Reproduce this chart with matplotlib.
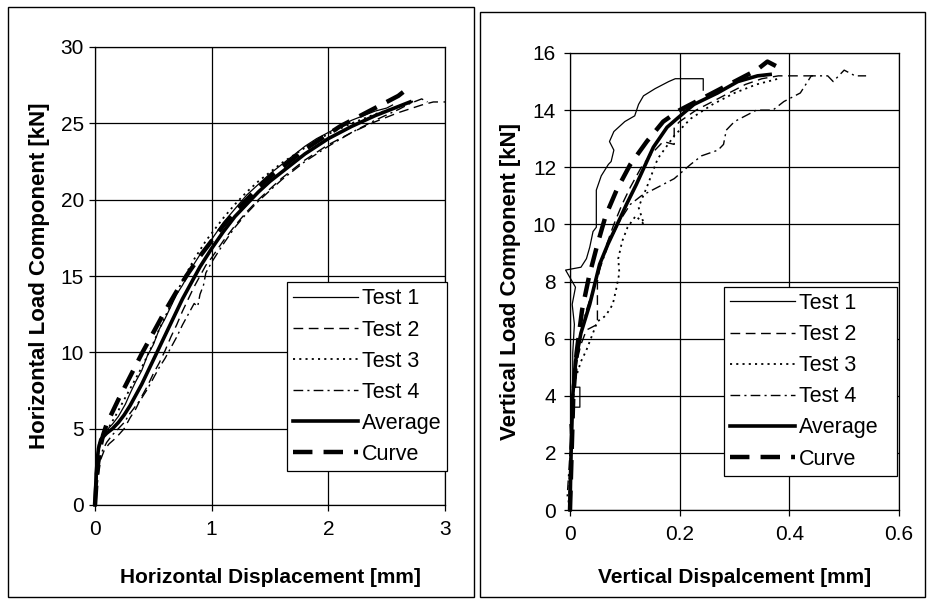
import matplotlib
matplotlib.use('Agg')
import matplotlib.pyplot as plt
from matplotlib.patches import Rectangle

plt.rcParams['font.family'] = ['Liberation Sans', 'DejaVu Sans']
plt.rcParams['lines.scale_dashes'] = False

labels = ['Test 1', 'Test 2', 'Test 3', 'Test 4', 'Average', 'Curve']

# horizontal component: displacement [mm], load [kN]
h_t1_x = [0, 0.005, 0.01, 0.02, 0.03, 0.06, 0.10, 0.15, 0.20, 0.26, 0.30, 0.35, 0.40, 0.45, 0.50, 0.55, 0.60, 0.65,
          0.70, 0.75, 0.80, 0.85, 0.90, 0.95, 1.00, 1.10, 1.20, 1.30, 1.40, 1.50, 1.60, 1.70, 1.80, 1.90, 2.00, 2.10,
          2.20, 2.30, 2.40, 2.50, 2.55]
h_t1_y = [0, 1.0, 2.2, 3.4, 4.0, 4.5, 4.9, 5.3, 5.8, 6.6, 7.3, 8.1, 8.8, 9.8, 10.5, 11.5, 12.2, 13.0, 13.8, 14.4,
          15.1, 15.8, 16.4, 16.9, 17.4, 18.5, 19.4, 20.3, 21.0, 21.7, 22.3, 22.9, 23.5, 24.0, 24.4, 24.8, 25.2, 25.5,
          25.8, 26.0, 26.2]
h_t2_x = [0, 0.01, 0.03, 0.05, 0.08, 0.12, 0.18, 0.25, 0.30, 0.35, 0.40, 0.45, 0.50, 0.55, 0.60, 0.65, 0.70, 0.75,
          0.80, 0.85, 0.90, 0.95, 1.00, 1.10, 1.20, 1.30, 1.40, 1.50, 1.60, 1.70, 1.80, 1.90, 2.00, 2.20, 2.40, 2.60,
          2.80, 2.90, 3.00]
h_t2_y = [0, 0.8, 2.0, 3.0, 3.6, 4.0, 4.4, 5.0, 5.7, 6.3, 7.1, 7.8, 8.6, 9.3, 10.1, 11.0, 11.8, 12.7, 13.5, 14.3,
          15.0, 15.7, 16.2, 17.3, 18.3, 19.2, 20.0, 20.7, 21.4, 22.0, 22.6, 23.1, 23.6, 24.4, 25.1, 25.7, 26.2, 26.4,
          26.4]
h_t3_x = [0, 0.01, 0.02, 0.04, 0.07, 0.12, 0.18, 0.25, 0.30, 0.35, 0.40, 0.45, 0.50, 0.55, 0.60, 0.65, 0.70, 0.75,
          0.80, 0.85, 0.90, 0.95, 1.00, 1.10, 1.20, 1.30, 1.40, 1.50, 1.60, 1.70, 1.80, 1.90, 2.00, 2.20, 2.40, 2.60,
          2.75]
h_t3_y = [0, 1.5, 3.0, 4.0, 4.5, 5.1, 5.9, 6.9, 7.6, 8.3, 9.0, 9.8, 10.6, 11.5, 12.3, 13.1, 13.9, 14.7, 15.4, 16.1,
          16.7, 17.3, 17.8, 18.8, 19.7, 20.5, 21.2, 21.8, 22.4, 22.9, 23.4, 23.9, 24.3, 25.0, 25.6, 26.1, 26.5]
h_t4_x = [0, 0.01, 0.03, 0.06, 0.10, 0.15, 0.20, 0.25, 0.30, 0.35, 0.40, 0.45, 0.50, 0.55, 0.60, 0.65, 0.70, 0.75,
          0.80, 0.85, 0.88, 0.90, 0.93, 0.95, 1.00, 1.10, 1.20, 1.30, 1.40, 1.50, 1.60, 1.70, 1.80, 1.90, 2.00, 2.20,
          2.40, 2.60, 2.70, 2.80, 2.85]
h_t4_y = [0, 1.2, 2.6, 3.5, 4.1, 4.6, 5.0, 5.4, 6.0, 6.5, 7.0, 7.6, 8.3, 9.0, 9.6, 10.3, 11.0, 11.8, 12.5, 13.2,
          13.0, 13.8, 14.4, 15.2, 15.9, 17.1, 18.2, 19.1, 19.9, 20.6, 21.3, 21.9, 22.5, 23.0, 23.5, 24.4, 25.2, 25.9,
          26.3, 26.6, 26.4]
h_avg_x = [0, 0.005, 0.01, 0.02, 0.03, 0.05, 0.10, 0.15, 0.20, 0.25, 0.30, 0.35, 0.40, 0.45, 0.50, 0.55, 0.60, 0.65,
           0.70, 0.75, 0.80, 0.85, 0.90, 0.95, 1.00, 1.10, 1.20, 1.30, 1.40, 1.50, 1.60, 1.70, 1.80, 1.90, 2.00, 2.20,
           2.40, 2.60, 2.70]
h_avg_y = [0, 1.0, 2.0, 3.0, 3.7, 4.3, 4.7, 5.0, 5.4, 5.9, 6.5, 7.2, 7.9, 8.7, 9.5, 10.3, 11.1, 11.9, 12.7, 13.5,
           14.2, 14.9, 15.6, 16.2, 16.8, 17.9, 18.9, 19.7, 20.5, 21.2, 21.8, 22.4, 23.0, 23.5, 24.0, 24.8, 25.5, 26.1,
           26.4]
h_cur_x = [0, 0.01, 0.02, 0.04, 0.07, 0.10, 0.15, 0.20, 0.30, 0.40, 0.50, 0.60, 0.70, 0.80, 0.90, 1.00, 1.10, 1.20,
           1.30, 1.40, 1.50, 1.60, 1.70, 1.80, 1.90, 2.00, 2.10, 2.20, 2.30, 2.40, 2.50, 2.60, 2.65, 2.68]
h_cur_y = [0, 1.2, 2.3, 3.6, 4.6, 5.3, 6.1, 6.9, 8.4, 9.9, 11.3, 12.7, 14.0, 15.2, 16.3, 17.3, 18.3, 19.2, 20.0,
           20.8, 21.5, 22.1, 22.7, 23.3, 23.8, 24.3, 24.8, 25.2, 25.6, 26.0, 26.4, 26.8, 27.1, 26.8]

# vertical component
v_t1_x = [0, 0.002, 0.003, 0.004, 0.018, 0.018, 0.005, 0.005, 0.008, 0.004, 0.01, -0.008, 0.02, 0.03, 0.036, 0.042,
          0.048, 0.048, 0.057, 0.07, 0.075, 0.08, 0.072, 0.08, 0.1, 0.118, 0.125, 0.134, 0.155, 0.17, 0.18, 0.192,
          0.243, 0.243]
v_t1_y = [0, 1.5, 3.0, 3.6, 3.6, 4.3, 4.3, 5.5, 6.5, 7.2, 7.8, 8.4, 8.5, 8.8, 9.2, 9.75, 9.9, 11.2, 11.7, 12.1,
          12.2, 12.6, 12.9, 13.25, 13.6, 13.8, 14.2, 14.5, 14.75, 14.9, 15.0, 15.1, 15.1, 14.7]
v_t2_x = [0, -0.002, 0.003, 0.0, 0.006, 0.01, 0.02, 0.03, 0.05, 0.05, 0.055, 0.065, 0.08, 0.095, 0.11, 0.13, 0.15,
          0.17, 0.19, 0.19, 0.2, 0.23, 0.26, 0.29, 0.32, 0.35, 0.38, 0.42, 0.45]
v_t2_y = [0, 1.0, 2.0, 3.0, 4.0, 5.0, 5.8, 6.3, 6.5, 8.0, 8.5, 9.2, 10.0, 10.7, 11.3, 12.0, 12.5, 12.9, 12.8, 13.4,
          13.6, 14.0, 14.3, 14.6, 14.9, 15.1, 15.2, 15.2, 15.2]
v_t3_x = [0, 0.0, 0.003, 0.005, 0.01, 0.02, 0.03, 0.04, 0.05, 0.065, 0.078, 0.085, 0.09, 0.088, 0.095, 0.105, 0.12,
          0.135, 0.125, 0.14, 0.16, 0.19, 0.22, 0.26, 0.3, 0.34, 0.38]
v_t3_y = [0, 1.5, 3.0, 4.0, 4.6, 5.2, 5.6, 6.1, 6.6, 6.8, 7.2, 7.8, 8.3, 8.8, 9.4, 9.9, 10.3, 10.0, 10.6, 11.3,
          12.3, 13.1, 13.7, 14.2, 14.6, 14.9, 15.1]
v_t4_x = [0, -0.005, 0.0, 0.005, 0.01, 0.015, 0.02, 0.03, 0.05, 0.07, 0.09, 0.11, 0.13, 0.16, 0.19, 0.22, 0.24,
          0.27, 0.28, 0.285, 0.3, 0.33, 0.34, 0.37, 0.39, 0.42, 0.43, 0.44, 0.47, 0.48, 0.5, 0.52, 0.54]
v_t4_y = [0, 0.5, 2.0, 3.5, 4.8, 5.5, 6.2, 7.0, 8.2, 9.3, 10.1, 10.7, 11.0, 11.3, 11.6, 12.1, 12.4, 12.6, 12.8,
          13.3, 13.6, 13.9, 14.0, 14.0, 14.3, 14.6, 14.9, 15.2, 15.2, 15.0, 15.4, 15.2, 15.2]
v_avg_x = [0, 0.002, 0.005, 0.01, 0.02, 0.036, 0.054, 0.069, 0.091, 0.103, 0.121, 0.14, 0.152, 0.177, 0.195, 0.226,
           0.269, 0.306, 0.342, 0.365]
v_avg_y = [0, 2.0, 4.0, 5.2, 6.2, 7.2, 8.6, 9.3, 10.2, 10.7, 11.4, 12.2, 12.7, 13.4, 13.7, 14.2, 14.6, 15.0, 15.2,
           15.25]
v_cur_x = [0, 0.003, 0.006, 0.012, 0.022, 0.035, 0.05, 0.065, 0.085, 0.11, 0.14, 0.17, 0.2, 0.25, 0.3, 0.34, 0.36,
           0.385]
v_cur_y = [0, 2.0, 4.0, 5.5, 7.0, 8.2, 9.3, 10.3, 11.2, 12.1, 12.9, 13.6, 14.0, 14.5, 15.0, 15.4, 15.7, 15.45]

styles = [dict(ls='-', lw=0.9),
          dict(ls=(0, (7, 4)), lw=1.0),
          dict(ls=(0, (1.5, 3)), lw=1.3),
          dict(ls=(0, (7, 3, 1.5, 3)), lw=1.0),
          dict(ls='-', lw=2.6),
          dict(ls=(0, (14, 8)), lw=3.2)]

fig = plt.figure(figsize=(9.3, 6.02), dpi=100)
W, H = 930, 602


def px_axes(x0, x1, ytop, ybot):
    return fig.add_axes([x0 / W, 1 - ybot / H, (x1 - x0) / W, (ybot - ytop) / H])


def draw(ax, xs, ys, xlim, ylim, xstep, ystep, xlabel, ylabel, leg_box, ytick_pad):
    for x, y, lab, st in zip(xs, ys, labels, styles):
        ax.plot(x, y, color='black', label=lab, clip_on=False, **st)
    ax.set_xlim(xlim)
    ax.set_ylim(ylim)
    n = int(round(xlim[1] / xstep))
    ax.set_xticks([i * xstep for i in range(n + 1)])
    ax.set_xticklabels([('%g' % round(i * xstep, 2)) for i in range(n + 1)])
    ax.set_yticks(range(0, ylim[1] + 1, ystep))
    ax.grid(True, color='black', lw=0.9)
    ax.set_axisbelow(True)
    for s in ax.spines.values():
        s.set_linewidth(0.9)
    ax.tick_params(direction='out', length=4.5, width=0.9, labelsize=15)
    ax.tick_params(axis='x', pad=6)
    ax.tick_params(axis='y', pad=ytick_pad)
    ax.set_xlabel(xlabel, fontsize=15, fontweight='bold')
    ax.set_ylabel(ylabel, fontsize=16, fontweight='bold')
    leg = ax.legend(loc='upper left', bbox_to_anchor=leg_box, mode='expand',
                    fontsize=15.5, frameon=True, fancybox=False, framealpha=1, edgecolor='black',
                    handlelength=3.0, handletextpad=0.2, labelspacing=0.47, borderpad=0.3, borderaxespad=0)
    leg.get_frame().set_linewidth(0.9)


ax1 = px_axes(95, 445, 47, 505)
draw(ax1, [h_t1_x, h_t2_x, h_t3_x, h_t4_x, h_avg_x, h_cur_x],
     [h_t1_y, h_t2_y, h_t3_y, h_t4_y, h_avg_y, h_cur_y],
     (0, 3), (0, 30), 1, 5, 'Horizontal Displacement [mm]', 'Horizontal Load Component [kN]',
     (0.548, 0.0, 0.458, 0.487), 3.5)
ax1.yaxis.set_label_coords(-0.129, 0.5)
ax1.xaxis.set_label_coords(0.5, -0.138)

ax2 = px_axes(570, 899, 53, 510)
draw(ax2, [v_t1_x, v_t2_x, v_t3_x, v_t4_x, v_avg_x, v_cur_x],
     [v_t1_y, v_t2_y, v_t3_y, v_t4_y, v_avg_y, v_cur_y],
     (0, 0.6), (0, 16), 0.2, 2, 'Vertical Dispalcement [mm]', 'Vertical Load Component [kN]',
     (0.467, 0.0, 0.527, 0.489), 5.5)
ax2.yaxis.set_label_coords(-0.149, 0.5)
ax2.xaxis.set_label_coords(0.5, -0.128)

# panel frames
fig.add_artist(Rectangle((8 / W, 1 - 597 / H), 466 / W, 590 / H, transform=fig.transFigure,
                         fill=False, lw=1.0, ec='black'))
fig.add_artist(Rectangle((480 / W, 1 - 597 / H), 445 / W, 585 / H, transform=fig.transFigure,
                         fill=False, lw=1.0, ec='black'))

fig.savefig('out.png', dpi=100)
